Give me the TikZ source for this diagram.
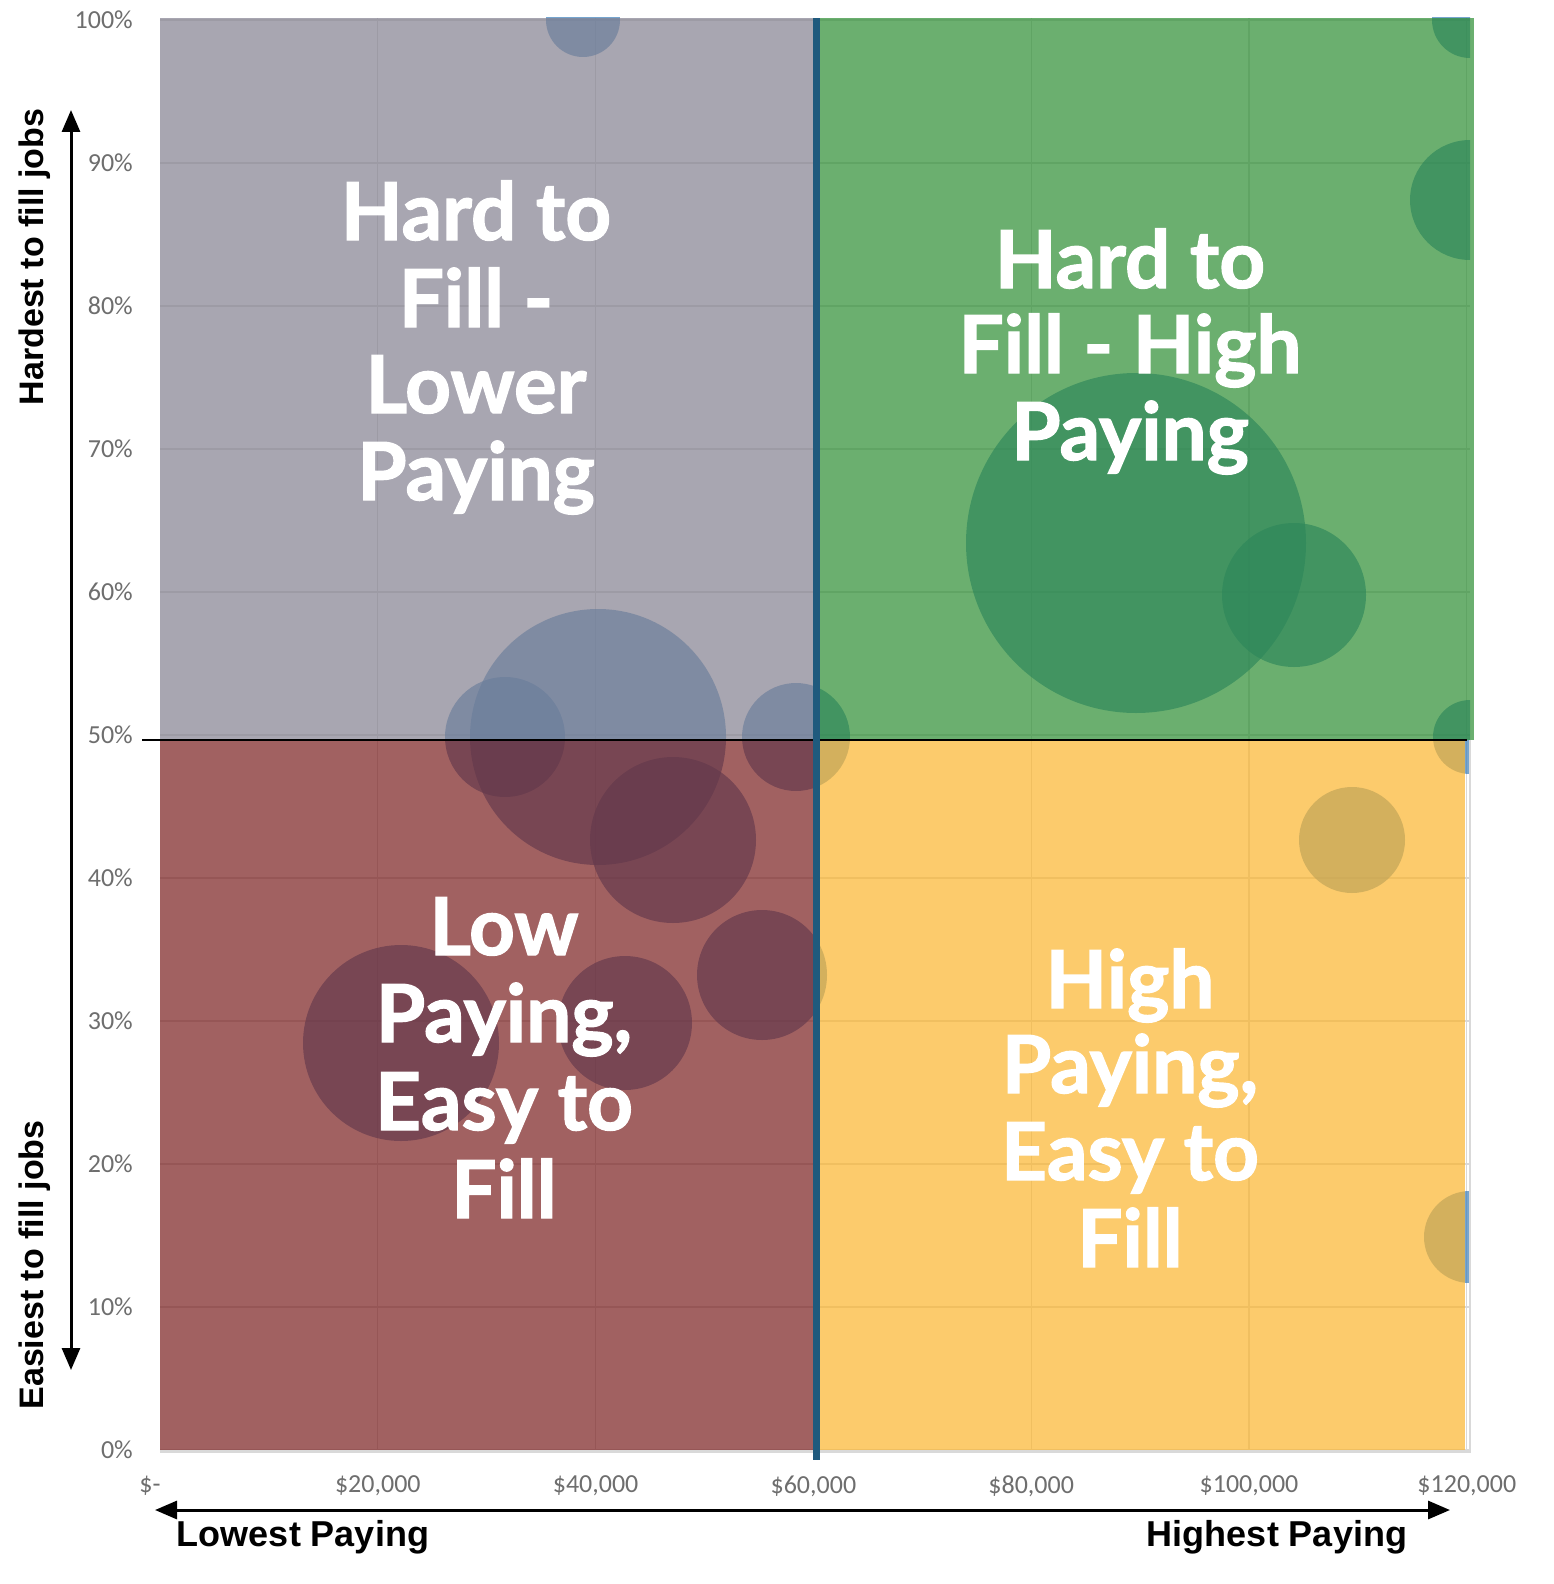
\documentclass[tikz,border=0pt]{standalone}
\usepackage{fontspec}
\setmainfont{Lato}
\newfontfamily\qfont[FakeBold=1.6]{Lato}
\newfontfamily\axisfont{Liberation Sans}
\newfontfamily\tickfont{Carlito}
\usetikzlibrary{arrows.meta}
\definecolor{gridgray}{HTML}{D9D9D9}
\definecolor{tickgray}{HTML}{6E6E6E}
\definecolor{bubbleblue}{HTML}{2E75B6}
\definecolor{qgray}{HTML}{848190}
\definecolor{qgreen}{HTML}{2D8E33}
\definecolor{qred}{HTML}{7A1F1F}
\definecolor{qyellow}{HTML}{FBB52E}
\definecolor{midblue}{HTML}{1F5A7D}
\tikzset{
  gridline/.style={draw=gridgray, line width=1.2pt},
  bubble/.style={fill=bubbleblue, fill opacity=0.65},
  quad/.style={fill opacity=0.7},
  qtext/.style={text=white, font=\qfont\bfseries\fontsize{80}{87}\selectfont, anchor=base, inner sep=0pt},
  ticklab/.style={text=tickgray, font=\tickfont\fontsize{26}{30}\selectfont, inner sep=0pt},
  axislab/.style={font=\axisfont\bfseries\fontsize{36}{40}\selectfont, inner sep=0pt},
  vaxislab/.style={font=\axisfont\bfseries\fontsize{34}{38}\selectfont, inner sep=0pt, rotate=90},
  axisarrow/.style={line width=3pt, {Triangle[length=22pt,width=18pt]}-{Triangle[length=22pt,width=18pt]}}
}
\begin{document}
\begin{tikzpicture}[x=1pt,y=-1pt]
\useasboundingbox[fill=white] (0,0) rectangle (1554,1584);
% grid
\foreach \k in {0,...,10} {\draw[gridline] (160,{1450-143*\k}) -- (1470,{1450-143*\k});}
\foreach \j in {1,...,6} {\draw[gridline] ({160+217.8*\j},18) -- ({160+217.8*\j},1452);}
% bubbles
\begin{scope}
\clip (160,18) rectangle (1470,1452);
\foreach \cx/\cy/\r in {583/20/37, 598/737/128, 505/737/60, 796/737/54, 673/840/83, 762/975/65, 625/1023/67, 401/1043/98, 1136/543/170, 1294/595/72, 1470/200/60, 1470/20/38, 1470/737/37, 1352/840/53, 1470/1237/46}
  {\fill[bubble] (\cx,\cy) circle[radius=\r];}
\end{scope}
% quadrants
\fill[quad, qgray] (160,18) rectangle (813,740);
\fill[quad, qgreen] (820,18) rectangle (1474,740);
\fill[quad, qred] (160,740) rectangle (813,1450);
\fill[quad, qyellow] (820,740) rectangle (1465,1450);
% plot border
\draw[gridgray, line width=1.5pt] (160,1452) -- (1470,1452) -- (1470,740);
% dividers
\draw[black, line width=2pt] (142,740) -- (1467,740);
\fill[midblue] (813,18) rectangle (820,1460);
% quadrant texts
\node[qtext] (tl1) at (476,240) {Hard to};
\node[qtext] (tl2) at (476,327) {Fill -};
\node[qtext] (tl3) at (476,413) {Lower};
\node[qtext] (tl4) at (476,500) {Paying};
\node[qtext] (tr1) at (1130,288) {Hard to};
\node[qtext] (tr2) at (1130,373) {Fill - High};
\node[qtext] (tr3) at (1130,460) {Paying};
\node[qtext] (bl1) at (504,955) {Low};
\node[qtext] (bl2) at (504,1042) {Paying,};
\node[qtext] (bl3) at (504,1130) {Easy to};
\node[qtext] (bl4) at (504,1218) {Fill};
\node[qtext] (br1) at (1130,1008) {High};
\node[qtext] (br2) at (1130,1093) {Paying,};
\node[qtext] (br3) at (1130,1180) {Easy to};
\node[qtext] (br4) at (1130,1267) {Fill};
% tick labels
\foreach \k/\lab in {0/0\%,1/10\%,2/20\%,3/30\%,4/40\%,5/50\%,6/60\%,7/70\%,8/80\%,9/90\%,10/100\%}
  {\node[ticklab, anchor=east] (ylab\k) at (133,{1450-143*\k}) {\lab};}
\node[ticklab] (xlab0) at (150,1486) {\$-};
\foreach \j/\lab in {1/\$20{,}000,2/\$40{,}000,3/\$60{,}000,4/\$80{,}000,5/\$100{,}000,6/\$120{,}000}
  {\node[ticklab] (xlab\j) at ({160+217.8*\j},1486) {\lab};}
% axis arrows
\coordinate (vtop) at (71,110);
\coordinate (vbot) at (71,1370);
\draw[axisarrow] (vbot) -- (vtop);
\coordinate (hleft) at (155,1510);
\coordinate (hright) at (1450,1510);
\draw[axisarrow] (hleft) -- (hright);
% axis labels
\node[vaxislab] (hard) at (35,257) {Hardest to fill jobs};
\node[vaxislab] (easy) at (35,1265) {Easiest to fill jobs};
\node[axislab] (lowest) at (303,1537) {Lowest Paying};
\node[axislab] (highest) at (1277,1537) {Highest Paying};
\end{tikzpicture}
\end{document}
